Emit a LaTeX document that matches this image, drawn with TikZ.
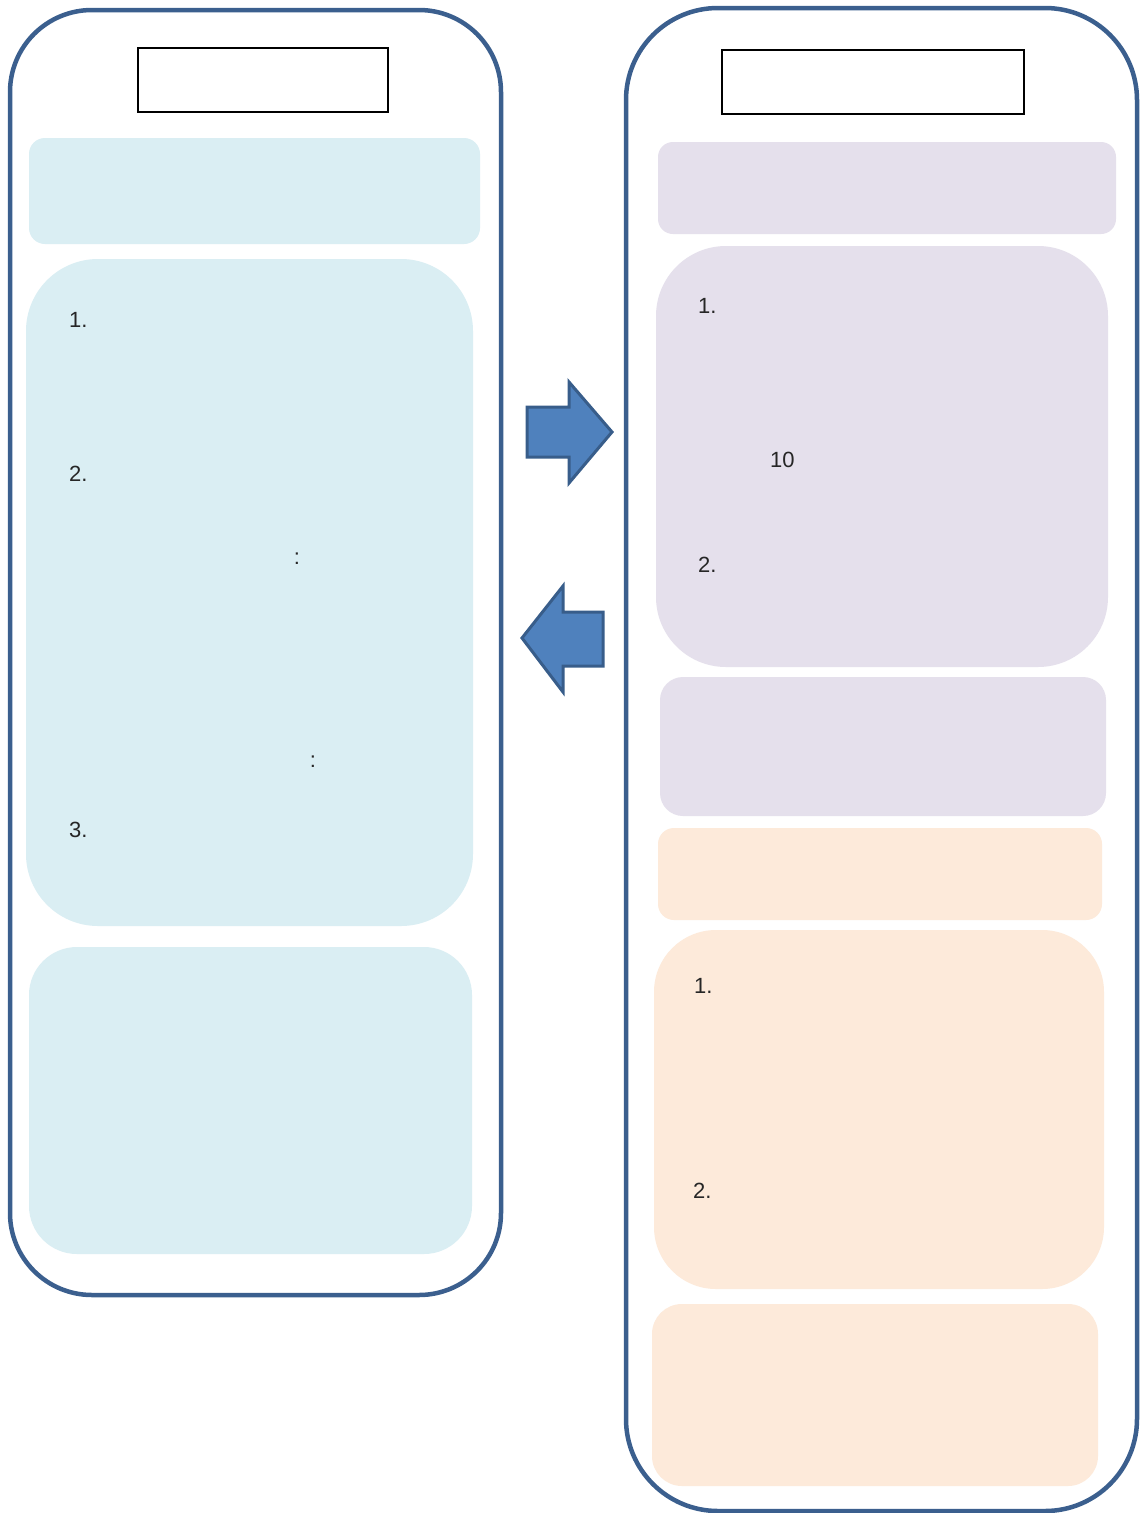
\documentclass[tikz,border=0pt]{standalone}
\usepackage{fontspec}
\setmainfont{Liberation Sans}
\definecolor{frameblue}{HTML}{3B5F8E}
\definecolor{lblue}{HTML}{DAEEF3}
\definecolor{lpurple}{HTML}{E5E0EC}
\definecolor{lorange}{HTML}{FDEADA}
\definecolor{arrfill}{HTML}{4F81BD}
\definecolor{arrline}{HTML}{385D8A}
\tikzset{
  frame/.style={draw=frameblue, line width=4.5pt, fill=white},
  titlebox/.style={draw=black, line width=1.3pt, fill=white},
  bluepanel/.style={fill=lblue},
  purplepanel/.style={fill=lpurple},
  orangepanel/.style={fill=lorange},
  bigarrow/.style={fill=arrfill, draw=arrline, line width=3pt, line join=miter},
  lbl/.style={font=\fontsize{22}{26}\selectfont, text=black!85, inner sep=0pt, anchor=west},
}
\begin{document}
\begin{tikzpicture}[x=1pt,y=-1pt]
\useasboundingbox (0,0) rectangle (1143,1513);
% left column
\draw[frame, rounded corners=82pt] (10,10) rectangle (501,1295);
\draw[titlebox] (138,48) rectangle (388,112);
\fill[bluepanel, rounded corners=16pt] (29,138) rectangle (480,244);
\fill[bluepanel, rounded corners=72pt] (26,259) rectangle (473,926);
\fill[bluepanel, rounded corners=48pt] (29,947) rectangle (472,1254);
\node[lbl] (l1) at (69,320) {1.};
\node[lbl] (l2) at (69,474) {2.};
\node[lbl] (l3) at (69,830) {3.};
\node[lbl, anchor=center] (lc1) at (297,559) {:};
\node[lbl, anchor=center] (lc2) at (313,762) {:};
% right column
\draw[frame, rounded corners=92pt] (626,8) rectangle (1137,1511);
\draw[titlebox] (722,50) rectangle (1024,114);
\fill[purplepanel, rounded corners=15pt] (658,142) rectangle (1116,234);
\fill[purplepanel, rounded corners=70pt] (656,246) rectangle (1108,667);
\fill[purplepanel, rounded corners=23pt] (660,677) rectangle (1106,816);
\fill[orangepanel, rounded corners=16pt] (658,828) rectangle (1102,920);
\fill[orangepanel, rounded corners=62pt] (654,930) rectangle (1104,1289);
\fill[orangepanel, rounded corners=30pt] (652,1304) rectangle (1098,1486);
\node[lbl] (r1) at (698,306) {1.};
\node[lbl] (r10) at (770,460) {10};
\node[lbl] (r2) at (698,565) {2.};
\node[lbl] (o1) at (694,986) {1.};
\node[lbl] (o2) at (693,1191) {2.};
% arrows
\draw[bigarrow] (527,407) -- (569,407) -- (569,382) -- (612,432) -- (569,483) -- (569,457) -- (527,457) -- cycle;
\draw[bigarrow] (603,612) -- (563,612) -- (563,586) -- (522,638) -- (563,692) -- (563,666) -- (603,666) -- cycle;
\end{tikzpicture}
\end{document}
